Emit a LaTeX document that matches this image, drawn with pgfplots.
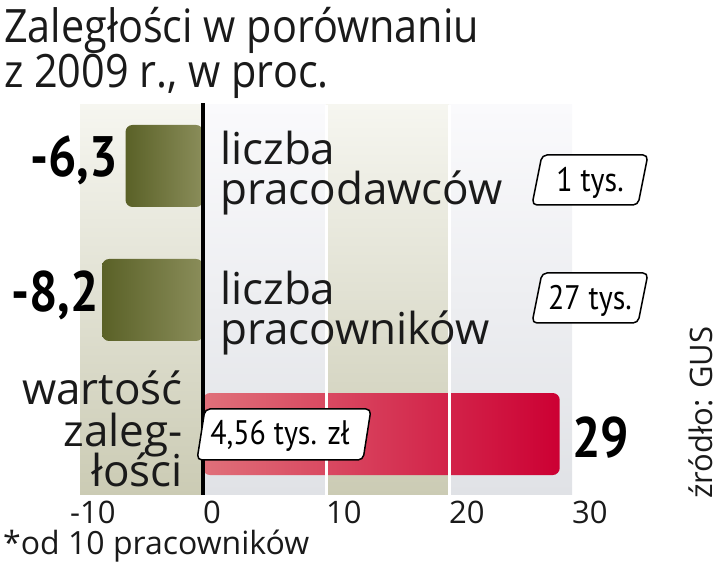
\documentclass[border=0pt]{standalone}
\usepackage{pgfplots}
\pgfplotsset{compat=1.18}
\usepackage{fontspec}
\setmainfont{Open Sans}
\newfontfamily\titlef[FakeStretch=0.9]{Open Sans}
\newfontfamily\condf[FakeStretch=0.88]{PT Sans}
\definecolor{txt}{HTML}{1A1A1A}
\definecolor{beigeB}{HTML}{CBCBB4}
\definecolor{beigeT}{HTML}{F6F6F0}
\definecolor{greyB}{HTML}{E0E2E6}
\definecolor{greyT}{HTML}{FAFAFC}
\definecolor{oliveD}{HTML}{5A6127}
\definecolor{oliveL}{HTML}{8A8D5A}
\definecolor{redL}{HTML}{E0707A}
\definecolor{redD}{HTML}{CC0033}
\begin{document}
\begin{tikzpicture}[x=1bp,y=1bp]
\useasboundingbox (0,0) rectangle (720,565);
\begin{axis}[
  at={(80bp,70bp)}, anchor=south west,
  scale only axis, width=492bp, height=390bp,
  xmin=-10, xmax=30, ymin=-0.455, ymax=2.455,
  axis line style={draw=none},
  ytick=\empty,
  xtick={-10,0,10,20,30},
  xticklabels={\llap{-}10,0,10,20,30},
  major tick length=0pt,
  xticklabel style={anchor=north west, inner sep=0pt, yshift=-6bp,
     font=\fontsize{31bp}{31bp}\selectfont, text=txt},
  xbar, bar width=82bp, bar shift=0pt,
  clip=false,
]
% background bands
\fill[top color=beigeT, bottom color=beigeB] (axis cs:-10,-0.455) rectangle (axis cs:0,2.455);
\fill[top color=greyT, bottom color=greyB] (axis cs:0,-0.455) rectangle (axis cs:10,2.455);
\fill[top color=beigeT, bottom color=beigeB] (axis cs:10,-0.455) rectangle (axis cs:20,2.455);
\fill[top color=greyT, bottom color=greyB] (axis cs:20,-0.455) rectangle (axis cs:30,2.455);
% bars
\addplot[draw=none, left color=oliveD, right color=oliveL, rounded corners=7bp] coordinates {(-6.3,2)};
\addplot[draw=none, left color=oliveD, right color=oliveL, rounded corners=7bp] coordinates {(-8.2,1)};
\addplot[draw=none, left color=redL, right color=redD, rounded corners=7bp] coordinates {(29,0)};
% grid separators and zero line
\draw[white, line width=3bp] (axis cs:10,-0.455) -- (axis cs:10,2.455);
\draw[white, line width=3bp] (axis cs:20,-0.455) -- (axis cs:20,2.455);
\draw[black, line width=3.5bp] (axis cs:0,-0.455) -- (axis cs:0,2.47);
\end{axis}
% title
\node[anchor=base west, inner sep=0pt, text=txt, font=\titlef\fontsize{46bp}{46bp}\selectfont] at (4,522) {Zaległości w porównaniu};
\node[anchor=base west, inner sep=0pt, text=txt, font=\titlef\fontsize{46bp}{46bp}\selectfont] at (4,477) {z 2009 r., w proc.};
% category labels
\node[anchor=base west, inner sep=0pt, text=txt, font=\fontsize{44bp}{44bp}\selectfont] at (220,400) {liczba};
\node[anchor=base west, inner sep=0pt, text=txt, font=\fontsize{44bp}{44bp}\selectfont] at (220,360) {pracodawców};
\node[anchor=base west, inner sep=0pt, text=txt, font=\fontsize{44bp}{44bp}\selectfont] at (220,260) {liczba};
\node[anchor=base west, inner sep=0pt, text=txt, font=\fontsize{44bp}{44bp}\selectfont] at (220,220) {pracowników};
\node[anchor=base east, inner sep=0pt, text=txt, font=\fontsize{44bp}{44bp}\selectfont] at (183,160) {wartość};
\node[anchor=base east, inner sep=0pt, text=txt, font=\fontsize{44bp}{44bp}\selectfont] at (183,118) {zaleg-};
\node[anchor=base east, inner sep=0pt, text=txt, font=\fontsize{44bp}{44bp}\selectfont] at (183,78) {łości};
% values
\node[anchor=base east, inner sep=0pt, text=black, font=\condf\bfseries\fontsize{57bp}{57bp}\selectfont] at (118,388) {-6,3};
\node[anchor=base east, inner sep=0pt, text=black, font=\condf\bfseries\fontsize{57bp}{57bp}\selectfont] at (99,253) {-8,2};
\node[anchor=base west, inner sep=0pt, text=black, font=\condf\bfseries\fontsize{57bp}{57bp}\selectfont] at (572,107) {29};
% boxes
\draw[rounded corners=5bp, line width=1.5bp, fill=white] (532,360) -- (638,360) -- (648,410) -- (542,410) -- cycle;
\node[anchor=base, inner sep=0pt, text=black, font=\condf\fontsize{34bp}{34bp}\selectfont] at (590,373) {1 tys.};
\draw[rounded corners=5bp, line width=1.5bp, fill=white] (532,242) -- (638,242) -- (648,292) -- (542,292) -- cycle;
\node[anchor=base, inner sep=0pt, text=black, font=\condf\fontsize{34bp}{34bp}\selectfont] at (590,255) {27 tys.};
\draw[rounded corners=5bp, line width=1.5bp, fill=white] (197,105) -- (363,105) -- (371,156) -- (205,156) -- cycle;
\node[anchor=base, inner sep=0pt, text=black, font=\condf\fontsize{34bp}{34bp}\selectfont] at (280,120) {4,56 tys. zł};
% footer
\node[anchor=base west, inner sep=0pt, text=txt, font=\fontsize{32bp}{32bp}\selectfont] at (3,10) {*od 10 pracowników};
\node[anchor=base west, inner sep=0pt, rotate=90, text=txt, font=\fontsize{31bp}{31bp}\selectfont] at (712,66) {źródło: GUS};
\end{tikzpicture}
\end{document}
